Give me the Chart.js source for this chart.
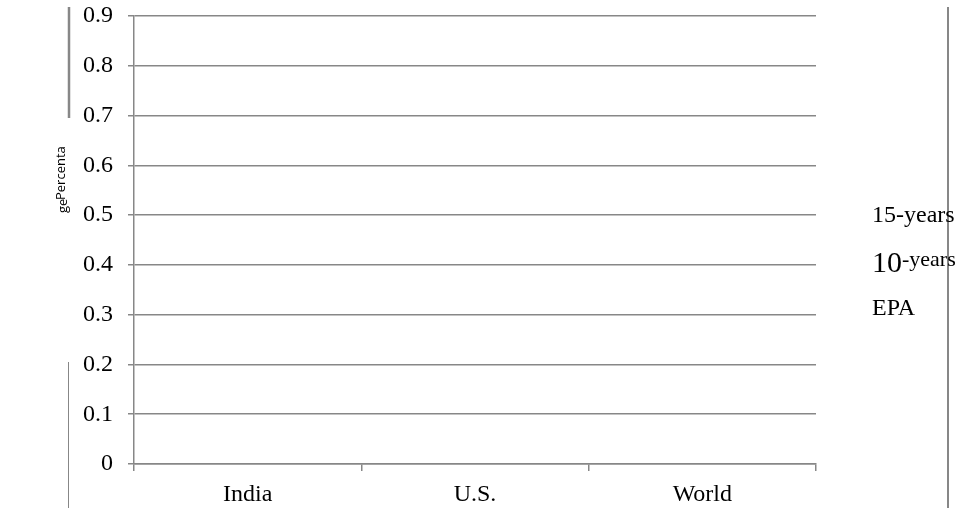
<!DOCTYPE html>
<html>
<head>
<meta charset="utf-8">
<script src="https://cdn.jsdelivr.net/npm/chart.js@4"></script>
<style>
  html, body { margin: 0; padding: 0; background: #fff; }
</style>
</head>
<body>
<canvas id="chart" width="963" height="508"></canvas>
<script>
const categories = ['India', 'U.S.', 'World']
const seriesNames = ['15-years', '10-years', 'EPA']
// no bars are visible in the picture, every value sits at zero
const years15 = [0, 0, 0]
const years10 = [0, 0, 0]
const epa = [0, 0, 0]
const yMin = 0
const yMax = 0.9
const yStep = 0.1

const GRID = '#878787'
const SERIF = "'Liberation Serif', 'Times New Roman', serif"

// legend text and the stray frame lines of the original
const extras = {
  id: 'extras',
  afterDraw(chart) {
    const ctx = chart.ctx
    ctx.save()
    ctx.strokeStyle = GRID
    ctx.lineWidth = 2.5
    ctx.beginPath(); ctx.moveTo(69, 7); ctx.lineTo(69, 118); ctx.stroke()
    ctx.lineWidth = 1
    ctx.beginPath(); ctx.moveTo(68.5, 362); ctx.lineTo(68.5, 508); ctx.stroke()
    ctx.lineWidth = 2
    ctx.beginPath(); ctx.moveTo(948, 7); ctx.lineTo(948, 508); ctx.stroke()

    ctx.fillStyle = '#000'
    ctx.textBaseline = 'alphabetic'
    ctx.textAlign = 'left'
    ctx.font = '24px ' + SERIF
    ctx.fillText(seriesNames[0], 872, 222)
    const [num, rest] = [seriesNames[1].slice(0, 2), seriesNames[1].slice(2)]
    ctx.font = '30px ' + SERIF
    ctx.fillText(num, 872, 272)
    const w = ctx.measureText(num).width
    ctx.font = '22px ' + SERIF
    ctx.fillText(rest, 872 + w, 266)
    ctx.font = '24px ' + SERIF
    ctx.fillText(seriesNames[2], 872, 315)

    // rotated axis title, wrapped like the original
    ctx.font = "13px 'Open Sans', sans-serif"
    ctx.save()
    ctx.translate(65, 200)
    ctx.rotate(-Math.PI / 2)
    ctx.fillText('Percenta', 0, 0)
    ctx.restore()
    ctx.translate(67, 213)
    ctx.rotate(-Math.PI / 2)
    ctx.fillText('ge', 0, 0)
    ctx.restore()
  },
}

new Chart(document.getElementById('chart'), {
  type: 'bar',
  data: {
    labels: categories,
    datasets: [
      { label: seriesNames[0], data: years15, backgroundColor: '#4f81bd', borderWidth: 0 },
      { label: seriesNames[1], data: years10, backgroundColor: '#c0504d', borderWidth: 0 },
      { label: seriesNames[2], data: epa, backgroundColor: '#9bbb59', borderWidth: 0 },
    ],
  },
  options: {
    responsive: false,
    animation: false,
    layout: { padding: { left: 0, right: 147, top: 16, bottom: 0 } },
    plugins: { legend: { display: false }, tooltip: { enabled: false } },
    scales: {
      x: {
        afterFit: (s) => { s.height = 44; s.paddingLeft = 0; s.paddingRight = 0 },
        grid: { drawOnChartArea: false, drawTicks: true, tickLength: 7, color: GRID, lineWidth: 1.5 },
        border: { display: true, color: GRID, width: 1.5 },
        ticks: { color: '#000', font: { family: SERIF, size: 24 }, padding: 9, maxRotation: 0 },
      },
      y: {
        min: yMin,
        max: yMax,
        afterFit: (s) => { s.width = 134; s.paddingTop = 0; s.paddingBottom = 0 },
        grid: { drawTicks: true, tickLength: 6, color: GRID, lineWidth: 1.5 },
        border: { display: true, color: GRID, width: 1.5 },
        ticks: { stepSize: yStep, autoSkip: false, color: '#000', font: { family: SERIF, size: 24 }, padding: 15 },
      },
    },
  },
  plugins: [extras],
})
</script>
</body>
</html>
